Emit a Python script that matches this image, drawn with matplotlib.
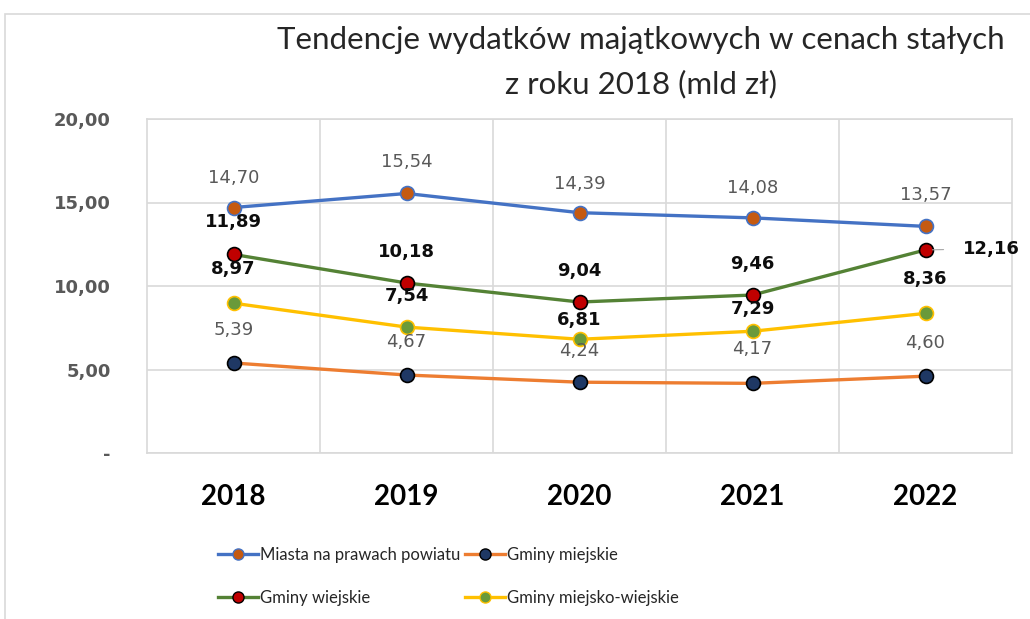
import matplotlib
matplotlib.use("Agg")
import matplotlib.pyplot as plt
from matplotlib.lines import Line2D
from matplotlib.patches import Rectangle

plt.rcParams['font.family'] = ['Lato', 'DejaVu Sans']

years = ["2018", "2019", "2020", "2021", "2022"]
miasta = [14.70, 15.54, 14.39, 14.08, 13.57]
gminy_miejskie = [5.39, 4.67, 4.24, 4.17, 4.60]
gminy_wiejskie = [11.89, 10.18, 9.04, 9.46, 12.16]
gminy_mw = [8.97, 7.54, 6.81, 7.29, 8.36]
names = ["Miasta na prawach powiatu", "Gminy miejskie", "Gminy wiejskie", "Gminy miejsko-wiejskie"]
yticks = [0, 5, 10, 15, 20]
ytick_labels = ["-", "5,00", "10,00", "15,00", "20,00"]

# label offsets above points (in pixels), layout only
lab_off_px = [
    [30, 31, 29, 30, 31],
    [33, 33, 31, 34, 33],
    [32, 31, 31, 31, 0],
    [34, 31, 19, 22, 34],
]

fig = plt.figure(figsize=(10.3, 6.19), dpi=100)
fig.patches.append(Rectangle((5/1030, -0.1), 1.2, 1 - 14/619 + 0.1, transform=fig.transFigure,
                             fill=False, edgecolor='#d9d9d9', linewidth=1.2, zorder=0))
ax = fig.add_axes([147/1030, 1 - 453/619, (1012 - 147)/1030, (453 - 119)/619])

num_font = 'DejaVu Sans'
x = list(range(len(years)))
series = [
    (miasta, '#4472C4', '#C55A11', '#4472C4', '#595959', 'normal'),
    (gminy_miejskie, '#ED7D31', '#1F3864', '#000000', '#595959', 'normal'),
    (gminy_wiejskie, '#548235', '#C00000', '#000000', '#0d0d0d', 'bold'),
    (gminy_mw, '#FFC000', '#6A9A3A', '#FFC000', '#0d0d0d', 'bold'),
]
handles = []
for si, ((vals, lc, mfc, mec, tc, tw), name) in enumerate(zip(series, names)):
    ax.plot(x, vals, color=lc, linewidth=2.4, zorder=3)
    ax.plot(x, vals, linestyle='none', marker='o', markersize=10, markerfacecolor=mfc,
            markeredgecolor=mec, markeredgewidth=1.2, zorder=4)
    handles.append(Line2D([0], [0], color=lc, linewidth=2.4, marker='o', markersize=8,
                          markerfacecolor=mfc, markeredgecolor=mec, markeredgewidth=1.0))
    for i, v in enumerate(vals):
        lab = f"{v:.2f}".replace('.', ',')
        if si == 2 and i == len(vals) - 1:
            ax.annotate(lab, (i, v), xytext=(27, 0.5), textcoords='offset points',
                        ha='left', va='center', fontsize=13, color=tc, fontweight=tw,
                        family=num_font, zorder=6,
                        arrowprops=dict(arrowstyle='-', color='#a6a6a6', lw=0.8,
                                        shrinkA=12, shrinkB=5, relpos=(0, 0.5)))
        else:
            ax.annotate(lab, (i, v), xytext=(0, lab_off_px[si][i] * 0.72), textcoords='offset points',
                        ha='center', va='center', fontsize=13, color=tc, fontweight=tw,
                        family=num_font, zorder=6)

ax.set_xlim(-0.5, 4.5)
ax.set_ylim(0, 20)
ax.set_yticks(yticks)
ax.set_yticklabels(ytick_labels, fontsize=13, color='#595959', fontweight='bold', family=num_font)
ax.set_xticks(x)
ax.set_xticklabels(years, fontsize=20, fontweight='bold', color='#000000')
ax.set_xticks([i + 0.5 for i in range(len(years) - 1)], minor=True)
ax.tick_params(axis='both', which='both', length=0)
ax.tick_params(axis='y', pad=26)
ax.tick_params(axis='x', pad=22)
ax.grid(True, axis='y', color='#d9d9d9', linewidth=1.2)
ax.grid(True, axis='x', which='minor', color='#d9d9d9', linewidth=1.2)
ax.grid(False, axis='x', which='major')
for s in ax.spines.values():
    s.set_color('#d9d9d9')
    s.set_linewidth(1.2)
ax.set_axisbelow(True)

fig.text(641/1030, 1 - 40/619, "Tendencje wydatków majątkowych w cenach stałych",
         ha='center', va='center', fontsize=22.5, color='#262626')
fig.text(641/1030, 1 - 84/619, "z roku 2018 (mld zł)",
         ha='center', va='center', fontsize=22.5, color='#262626')

order = [0, 2, 1, 3]
fig.legend([handles[i] for i in order], [names[i] for i in order], ncol=2,
           loc='upper left', bbox_to_anchor=(203/1030, 1 - 532/619), frameon=False,
           fontsize=12, handlelength=2.4, handletextpad=0.1, columnspacing=0.3,
           labelspacing=1.6, labelcolor='#262626')

fig.savefig("out.png", dpi=100)
